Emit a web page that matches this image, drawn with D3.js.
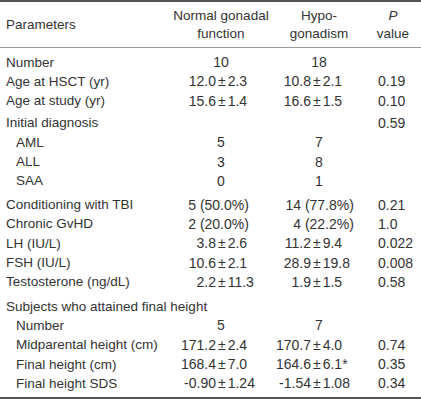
<!DOCTYPE html>
<html>
<head>
<meta charset="utf-8">
<script src="https://cdn.jsdelivr.net/npm/d3@7"></script>
<style>
  html, body { margin: 0; padding: 0; background: #fff; }
  svg { display: block; }
  text { font-family: "Liberation Sans", Arial, sans-serif; font-size: 13.5px; fill: #333; }
  text.val { font-size: 14px; }
</style>
</head>
<body>
<svg id="chart" width="421" height="400"></svg>
<script>
// ---- data ----
const headerParam = "Parameters";
const headerNormal = ["Normal gonadal", "function"];
const headerHypo = ["Hypo-", "gonadism"];
const headerP = ["P", "value"];

const params = ["Number", "Age at HSCT (yr)", "Age at study (yr)", "Initial diagnosis", "AML", "ALL", "SAA",
  "Conditioning with TBI", "Chronic GvHD", "LH (IU/L)", "FSH (IU/L)", "Testosterone (ng/dL)",
  "Subjects who attained final height", "Number", "Midparental height (cm)", "Final height (cm)", "Final height SDS"];
const indented = [0, 0, 0, 0, 1, 1, 1, 0, 0, 0, 0, 0, 0, 1, 1, 1, 1];
const groupOf = [0, 0, 0, 1, 1, 1, 1, 2, 2, 2, 2, 2, 3, 3, 3, 3, 3];
const normalGonadal = ["10", "12.0±2.3", "15.6±1.4", "", "5", "3", "0", "5 (50.0%)", "2 (20.0%)",
  "3.8±2.6", "10.6±2.1", "2.2±11.3", "", "5", "171.2±2.4", "168.4±7.0", "-0.90±1.24"];
const hypogonadism = ["18", "10.8±2.1", "16.6±1.5", "", "7", "8", "1", "14 (77.8%)", "4 (22.2%)",
  "11.2±9.4", "28.9±19.8", "1.9±1.5", "", "7", "170.7±4.0", "164.6±6.1*", "-1.54±1.08"];
const pValues = ["", "0.19", "0.10", "0.59", "", "", "", "0.21", "1.0", "0.022", "0.008", "0.58",
  "", "", "0.74", "0.35", "0.34"];

// ---- layout ----
const W = 421, H = 400;
const svg = d3.select("#chart");
const step = 19.3, groupGap = [0, 3, 7.5, 12.5];
const yRow = d3.scaleLinear().domain([0, 1]).range([62, 62 + step]);
const rowY = i => yRow(i) + groupGap[groupOf[i]];

const xCol = d3.scaleOrdinal()
  .domain(["param", "indent", "c1", "c2", "p"])
  .range([6, 16, 221, 319, 378]);
const pmX = { c1: 217, c2: 312 };    // x of the '±' alignment point
const parX = { c1: 196, c2: 301 };   // x of the ' (' alignment point

// rules
svg.append("line").attr("x1", 0).attr("x2", W).attr("y1", 1).attr("y2", 1)
  .attr("stroke", "#555").attr("stroke-width", 2);
svg.append("line").attr("x1", 0).attr("x2", W).attr("y1", 47.5).attr("y2", 47.5)
  .attr("stroke", "#9a9a9a").attr("stroke-width", 1);
svg.append("line").attr("x1", 0).attr("x2", W).attr("y1", 398).attr("y2", 398)
  .attr("stroke", "#555").attr("stroke-width", 2);

// header
const hdr = svg.append("g");
hdr.append("text").attr("x", xCol("param")).attr("y", 24).attr("dominant-baseline", "central").text(headerParam);
const hdrCol = (lines, x, italicFirst) => {
  lines.forEach((t, k) => {
    hdr.append("text").attr("x", x).attr("y", k === 0 ? 15 : 33)
      .attr("text-anchor", "middle").attr("dominant-baseline", "central")
      .style("font-style", italicFirst && k === 0 ? "italic" : null)
      .text(t);
  });
};
hdrCol(headerNormal, xCol("c1"), false);
hdrCol(headerHypo, xCol("c2"), false);
hdrCol(headerP, 393, true);

// body
const body = svg.append("g");
const rows = body.selectAll("g.row").data(params.map((p, i) => i)).join("g").attr("class", "row");

rows.append("text")
  .attr("x", i => indented[i] ? xCol("indent") : xCol("param"))
  .attr("y", rowY)
  .attr("dominant-baseline", "central")
  .text(i => params[i]);

function valueCell(sel, arr, key) {
  sel.each(function (i) {
    const v = arr[i];
    if (!v) return;
    const g = d3.select(this);
    const t = g.append("text").attr("class", "val").attr("y", rowY(i)).attr("dominant-baseline", "central");
    const kp = v.indexOf("±");
    const kq = v.indexOf(" (");
    if (kp >= 0) {
      const pre = t.append("tspan").text(v.slice(0, kp));
      t.append("tspan").attr("dx", 2).text("±");
      t.append("tspan").attr("dx", 2).text(v.slice(kp + 1));
      const w = pre.node().getComputedTextLength();
      t.attr("x", pmX[key] - w - 1);
    } else if (kq >= 0) {
      const pre = t.append("tspan").text(v.slice(0, kq));
      t.append("tspan").text(v.slice(kq));
      const w = pre.node().getComputedTextLength();
      t.attr("x", parX[key] - w);
    } else {
      t.attr("x", xCol(key)).attr("text-anchor", "middle").text(v);
    }
  });
}
valueCell(rows, normalGonadal, "c1");
valueCell(rows, hypogonadism, "c2");

rows.filter(i => pValues[i]).append("text")
  .attr("class", "val")
  .attr("x", xCol("p"))
  .attr("y", rowY)
  .attr("dominant-baseline", "central")
  .text(i => pValues[i]);
</script>
</body>
</html>
